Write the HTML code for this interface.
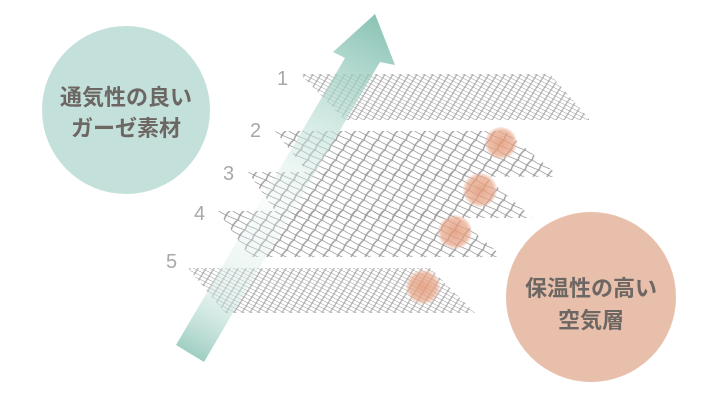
<!DOCTYPE html>
<html><head><meta charset="utf-8"><style>
html,body{margin:0;padding:0;background:#fff;width:712px;height:413px;overflow:hidden}
svg{display:block}
text{font-family:"Liberation Sans","Noto Sans CJK JP",sans-serif}
</style></head><body>
<svg width="712" height="413" viewBox="0 0 712 413" xmlns="http://www.w3.org/2000/svg">
<defs>
<pattern id="m1" width="8" height="6" patternUnits="userSpaceOnUse" patternTransform="skewX(35)">
<path d="M0 0L8 6M8 0L0 6" stroke="#9a9a9a" stroke-width="0.7" fill="none"/>
</pattern>
<pattern id="m2" width="14" height="10" patternUnits="userSpaceOnUse" patternTransform="skewX(35)">
<path d="M0 0Q5 6 14 10M14 0Q7 3 0 10" stroke="#999" stroke-width="1" fill="none"/>
</pattern>
<linearGradient id="ag" x1="190" y1="360" x2="375" y2="15" gradientUnits="userSpaceOnUse">
<stop offset="0" stop-color="#8cc4b6"/>
<stop offset="0.2" stop-color="#cfe7e1" stop-opacity="0.5"/>
<stop offset="0.45" stop-color="#e5f2ef" stop-opacity="0.3"/>
<stop offset="0.7" stop-color="#b8ddd3" stop-opacity="0.7"/>
<stop offset="1" stop-color="#7dbcac"/>
</linearGradient>
<radialGradient id="dot"><stop offset="0" stop-color="#e39a78" stop-opacity="0.85"/><stop offset="0.8" stop-color="#e8a587" stop-opacity="0.7"/><stop offset="1" stop-color="#f0c4b0" stop-opacity="0.3"/></radialGradient>
</defs>
<circle cx="126" cy="110" r="84" fill="#c4e0da"/>
<text x="126" y="105" font-size="22" font-weight="bold" fill="#6d6764" text-anchor="middle">通気性の良い</text>
<text x="126" y="136" font-size="22" font-weight="bold" fill="#6d6764" text-anchor="middle">ガーゼ素材</text>
<circle cx="591" cy="297" r="85" fill="#e8bfab"/>
<text x="591" y="296" font-size="22" font-weight="bold" fill="#6d6764" text-anchor="middle">保温性の高い</text>
<text x="591" y="328" font-size="22" font-weight="bold" fill="#6d6764" text-anchor="middle">空気層</text>
<g font-size="20" fill="#a8a8a8">
<text x="277" y="85">1</text><text x="250" y="137">2</text><text x="223" y="180">3</text><text x="194" y="220">4</text><text x="166" y="268">5</text>
</g>
<polygon points="300,74 550,74 590,120 345,120" fill="url(#m1)"/>
<polygon points="275,131 505,131 560,177 310,175" fill="url(#m2)"/>
<polygon points="248,172 480,172 533,218 280,218" fill="url(#m2)"/>
<polygon points="218,211 450,211 503,257 250,257" fill="url(#m2)"/>
<polygon points="188,268 430,268 475,313 225,313" fill="url(#m1)"/>
<path d="M176 345 L345 58 L333 52 L375 14 L395 65 L380 62 L204 362 Z" fill="url(#ag)" opacity="0.9"/>
<circle cx="501" cy="143" r="16" fill="url(#dot)"/>
<circle cx="480" cy="190" r="17" fill="url(#dot)"/>
<circle cx="455" cy="232" r="17" fill="url(#dot)"/>
<circle cx="423" cy="287" r="17" fill="url(#dot)"/>
</svg>
</body></html>
